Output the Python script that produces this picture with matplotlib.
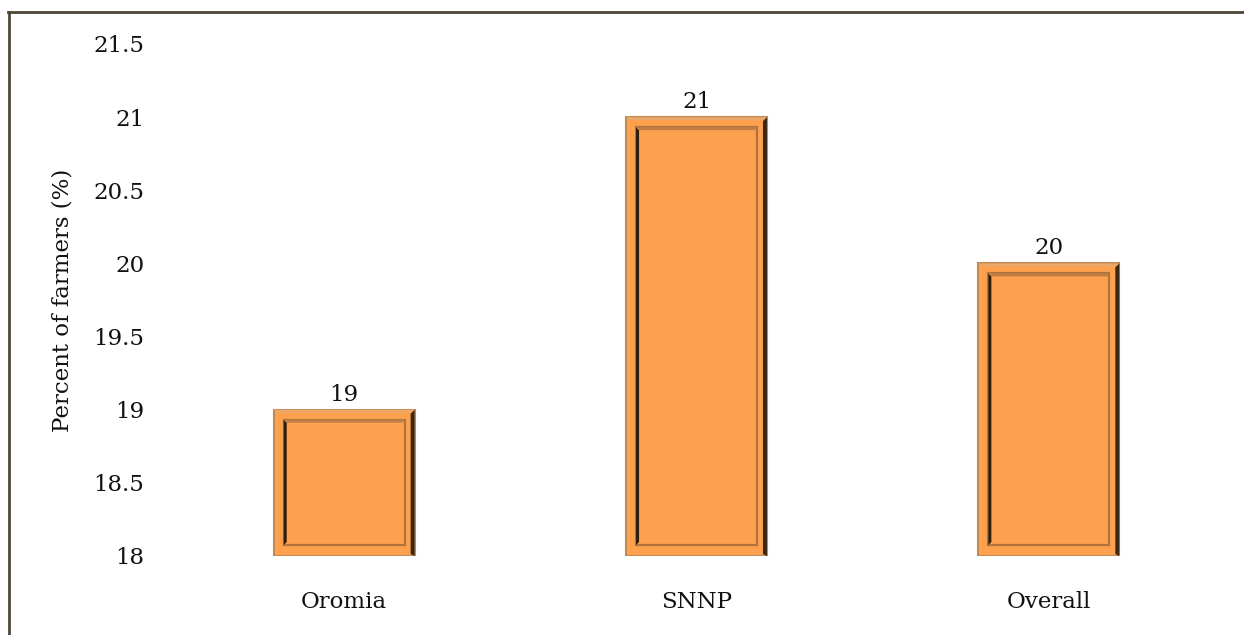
import matplotlib
matplotlib.use("Agg")
import matplotlib.pyplot as plt
from matplotlib.patches import Rectangle, Polygon
from matplotlib.lines import Line2D
import numpy as np

# data
regions = ["Oromia", "SNNP", "Overall"]
percent = [19, 21, 20]
y_ticks = [18, 18.5, 19, 19.5, 20, 20.5, 21, 21.5]

plt.rcParams['font.family'] = ['DejaVu Serif']
fs = 16.5

W, H = 1244, 635
fig = plt.figure(figsize=(W / 100, H / 100), dpi=100)
ax = fig.add_axes([168 / W, 1 - 556 / H, (1225 - 168) / W, (556 - 44) / H])

ymin, ymax = 18, 21.5
x = np.arange(len(regions))
bw = 0.40
orange = "#FDA14F"
bars = ax.bar(x, np.array(percent) - ymin, bottom=ymin, width=bw,
              color=orange, edgecolor="#C08A55", linewidth=1.5, zorder=2)

ax.set_xlim(-0.5, len(regions) - 0.5)
ax.set_ylim(ymin, ymax)

# pixel -> data helpers for the bevel look
px_x = 3.0 / (1225 - 168)
px_y = (ymax - ymin) / (556 - 44)

for b in bars:
    x0, x1 = b.get_x(), b.get_x() + b.get_width()
    y0, y1 = b.get_y(), b.get_y() + b.get_height()
    # dark right side of outer frame
    ax.add_patch(Polygon([[x1 - 4 * px_x, y0 + 2 * px_y], [x1, y0], [x1, y1],
                          [x1 - 4 * px_x, y1 - 4 * px_y]],
                         closed=True, color="#3B2814", lw=0, zorder=3))
    # light top of outer frame
    ax.add_patch(Polygon([[x0, y1], [x1, y1], [x1 - 4 * px_x, y1 - 3 * px_y],
                          [x0 + 3 * px_x, y1 - 3 * px_y]],
                         closed=True, color="#E9A869", lw=0, zorder=3))
    # inner panel
    ix0, ix1 = x0 + 10 * px_x, x1 - 10 * px_x
    iy0, iy1 = y0 + 11 * px_y, y1 - 10 * px_y
    ax.add_patch(Rectangle((ix0, iy0), ix1 - ix0, iy1 - iy0, fill=False,
                           edgecolor="#B0733C", lw=1.6, zorder=3))
    ax.add_patch(Polygon([[ix0, iy0], [ix0 + 3 * px_x, iy0 + 3 * px_y],
                          [ix0 + 3 * px_x, iy1 - 3 * px_y], [ix0, iy1]],
                         closed=True, color="#2E1E0E", lw=0, zorder=4))
    ax.add_patch(Polygon([[ix0, iy1], [ix1, iy1], [ix1 - 2 * px_x, iy1 - 3 * px_y],
                          [ix0 + 3 * px_x, iy1 - 3 * px_y]],
                         closed=True, color="#C27E44", lw=0, zorder=4))
    ax.text(b.get_x() + b.get_width() / 2, y1 + 4 * px_y, f"{b.get_height() + ymin:g}",
            ha="center", va="bottom", fontsize=fs, color="#111111")

ax.set_yticks(y_ticks)
ax.set_yticklabels([f"{t:g}" for t in y_ticks])
ax.set_xticks(x)
ax.set_xticklabels(regions)
ax.tick_params(axis="y", length=0, pad=17, labelsize=fs, colors="#111111")
ax.tick_params(axis="x", length=0, pad=25, labelsize=fs, colors="#111111")
for s in ax.spines.values():
    s.set_visible(False)
ax.set_ylabel("Percent of farmers (%)", fontsize=fs, color="#111111", labelpad=14)

# outer frame (left and top only)
frame = "#4D4836"
fig.add_artist(Line2D([8.5 / W, 8.5 / W], [0, 1 - 12 / H], color=frame, lw=2))
fig.add_artist(Line2D([8 / W, 1], [1 - 12 / H, 1 - 12 / H], color=frame, lw=2))

fig.savefig("out.png", dpi=100)
